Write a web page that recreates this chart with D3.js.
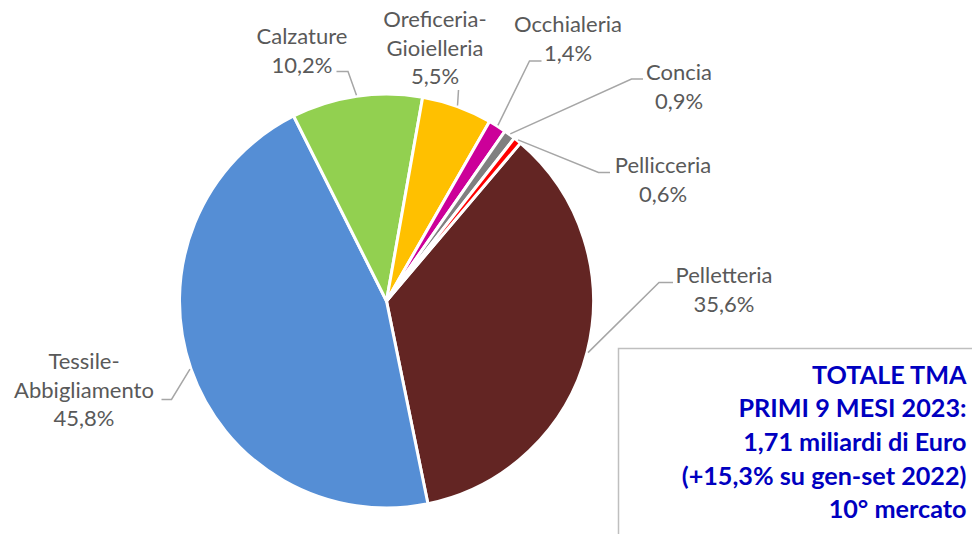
<!DOCTYPE html>
<html>
<head>
<meta charset="utf-8">
<script src="https://cdn.jsdelivr.net/npm/d3@7"></script>
<style>
  body { margin: 0; background: #fff; }
  svg { display: block; font-family: Lato, "Noto Sans", sans-serif; }
</style>
</head>
<body>
<svg width="972" height="534"></svg>
<script>
const svg = d3.select('svg');

// slices in drawing order (clockwise from the Pelletteria edge)
const categories = ['Pelletteria', 'Tessile-Abbigliamento', 'Calzature', 'Oreficeria-Gioielleria', 'Occhialeria', 'Concia', 'Pellicceria'];
const shares = [35.6, 45.8, 10.2, 5.5, 1.4, 0.9, 0.6];
const colors = ['#632523', '#558ED5', '#92D050', '#FFC000', '#CC0099', '#808080', '#FF0000'];

const boxLines = ['TOTALE TMA', 'PRIMI 9 MESI 2023:', '1,71 miliardi di Euro', '(+15,3% su gen-set 2022)', '10° mercato'];

const data = categories.map((c, i) => ({ name: c, value: shares[i], color: colors[i] }));

const cx = 386.5, cy = 301, R = 207;
const start = 40.3 * Math.PI / 180;

const pie = d3.pie().sort(null).value(d => d.value)
  .startAngle(start).endAngle(start + 2 * Math.PI);
const arc = d3.arc().innerRadius(0).outerRadius(R);

const g = svg.append('g').attr('transform', `translate(${cx},${cy})`);
const arcs = pie(data);

g.selectAll('.slice')
  .data(arcs)
  .enter()
  .append('path')
  .attr('class', 'slice')
  .attr('d', arc)
  .attr('fill', d => d.data.color)
  .attr('stroke', '#fff')
  .attr('stroke-width', 3)
  .attr('stroke-linejoin', 'round');

// label placement (text centre, first baseline, leader elbow, leader end)
const labelLayout = {
  'Pelletteria':            { x: 724, y: 283, elbow: [659, 282.5], end: [673, 282.5] },
  'Tessile-Abbigliamento':  { x: 84,  y: 369, elbow: [171.5, 399.5], end: [161.5, 399.5] },
  'Calzature':              { x: 302, y: 44,  elbow: [348, 71.5], end: [336.5, 71.5] },
  'Oreficeria-Gioielleria': { x: 435, y: 27,  elbow: [458.5, 90], end: null },
  'Occhialeria':            { x: 568, y: 32,  elbow: [529.5, 61], end: [541.5, 61] },
  'Concia':                 { x: 679, y: 80,  elbow: [631.5, 79], end: [643, 79] },
  'Pellicceria':            { x: 663, y: 173, elbow: [598.5, 172.5], end: [610, 172.5] }
};
const lineH = 28.6;
const fmt = v => d3.format('.1f')(v).replace('.', ',') + '%';

arcs.forEach(d => {
  const L = labelLayout[d.data.name];
  const mid = (d.startAngle + d.endAngle) / 2;
  const px = cx + (R + 1) * Math.sin(mid);
  const py = cy - (R + 1) * Math.cos(mid);
  const pts = [[px, py], L.elbow];
  if (L.end) pts.push(L.end);
  svg.append('path')
    .attr('d', d3.line()(pts))
    .attr('fill', 'none')
    .attr('stroke', '#A6A6A6')
    .attr('stroke-width', 1.5);

  const parts = d.data.name.split(/(?<=-)/);
  const lines = parts.concat([fmt(d.data.value)]);
  const t = svg.append('text')
    .attr('text-anchor', 'middle')
    .attr('fill', '#595959')
    .attr('font-size', 22);
  lines.forEach((s, i) => {
    t.append('tspan').attr('x', L.x).attr('y', L.y + i * lineH).text(s);
  });
});

// totals box
svg.append('rect')
  .attr('x', 618.5).attr('y', 348.5)
  .attr('width', 400).attr('height', 250)
  .attr('fill', '#fff')
  .attr('stroke', '#BFBFBF')
  .attr('stroke-width', 1.5);

svg.append('text')
  .attr('text-anchor', 'end')
  .attr('fill', '#0000C0')
  .attr('font-weight', 'bold')
  .attr('font-size', 25.2)
  .selectAll('tspan')
  .data(boxLines)
  .enter()
  .append('tspan')
  .attr('x', 966.5)
  .attr('y', (d, i) => 383.5 + i * 33.7)
  .text(d => d);
</script>
</body>
</html>
